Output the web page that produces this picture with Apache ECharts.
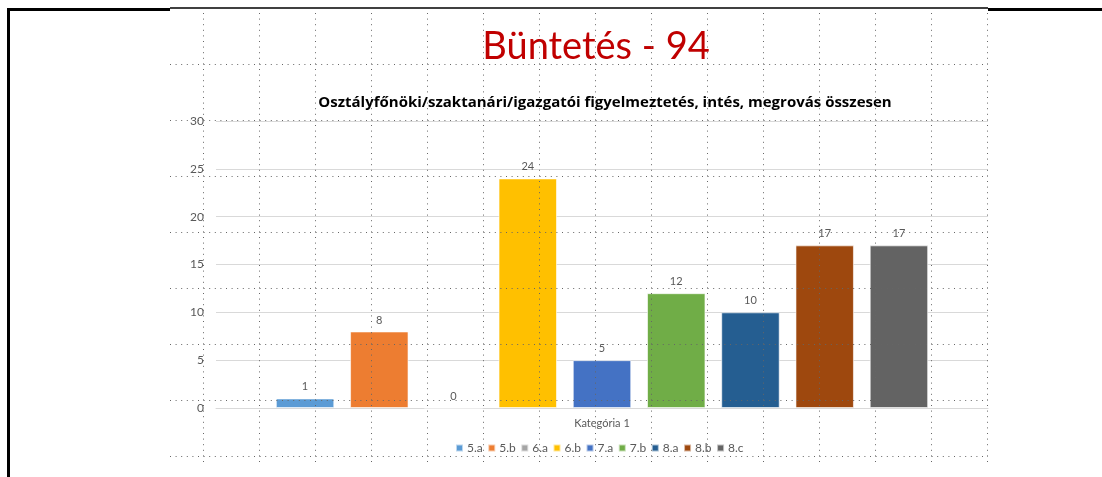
<!DOCTYPE html>
<html>
<head>
    <meta charset="utf-8">
    <title>Büntetés - 94</title>
    <script src="https://cdn.jsdelivr.net/npm/echarts@6/dist/echarts.min.js"></script>
    <style>
        html, body { margin: 0; padding: 0; background: #fff; }
    </style>
</head>
<body>
    <div id="main" style="width: 1102px;height:477px;"></div>
    <script type="text/javascript">
        // adatok
        var categories = ['Kategória 1'];
        var classes = ['5.a', '5.b', '6.a', '6.b', '7.a', '7.b', '8.a', '8.b', '8.c'];
        var values = [1, 8, 0, 24, 5, 12, 10, 17, 17];
        var colors = ['#5B9BD5', '#ED7D31', '#A5A5A5', '#FFC000', '#4472C4', '#70AD47', '#255E91', '#9E480E', '#636363'];
        var yTicks = [0, 5, 10, 15, 20, 25, 30];

        var myChart = echarts.init(document.getElementById('main'));
        var font = 'Lato, "Noto Sans", sans-serif';

        // a dia keretje + a PowerPoint segédrács pontozott vonalai
        var graphics = [
            { type: 'line', shape: { x1: 7, y1: 9.5, x2: 170, y2: 9.5 }, style: { stroke: '#000', lineWidth: 3 }, z: 100 },
            { type: 'line', shape: { x1: 170, y1: 8, x2: 988, y2: 8 }, style: { stroke: '#000', lineWidth: 1.5 }, z: 100 },
            { type: 'line', shape: { x1: 988, y1: 9.5, x2: 1102, y2: 9.5 }, style: { stroke: '#000', lineWidth: 3 }, z: 100 },
            { type: 'line', shape: { x1: 8.5, y1: 8, x2: 8.5, y2: 477 }, style: { stroke: '#000', lineWidth: 3 }, z: 100 }
        ];
        for (var k = 0; k < 15; k++) {
            var x = 203.5 + 56 * k;
            graphics.push({ type: 'line', silent: true, z: 100,
                shape: { x1: x, y1: 13, x2: x, y2: 463 },
                style: { stroke: '#666', lineWidth: 1, lineDash: [1, 4.6] } });
        }
        for (var j = 0; j < 8; j++) {
            var y = 64.5 + 56 * j;
            graphics.push({ type: 'line', silent: true, z: 100,
                shape: { x1: 170, y1: y, x2: 988, y2: y },
                style: { stroke: '#666', lineWidth: 1, lineDash: [1, 4.6] } });
        }

        var series = classes.map(function (name, i) {
            return {
                name: name,
                type: 'bar',
                data: [values[i]],
                barGap: '27%',
                barCategoryGap: '15.5%',
                itemStyle: { color: colors[i], borderColor: 'rgba(255,255,255,0.6)', borderWidth: 1 },
                label: {
                    show: true,
                    position: 'top',
                    distance: 6,
                    color: '#595959',
                    fontSize: 11,
                    fontFamily: font
                }
            };
        });

        var option = {
            animation: false,
            backgroundColor: '#fff',
            color: colors,
            title: [{
                text: 'Büntetés - 94',
                left: 591,
                textAlign: 'center',
                top: 20,
                textStyle: { color: '#C00000', fontSize: 38, fontWeight: 'normal', fontFamily: font, lineHeight: 44 }
            }, {
                text: 'Osztályfőnöki/szaktanári/igazgatói figyelmeztetés, intés, megrovás összesen',
                left: 600,
                textAlign: 'center',
                top: 88,
                textStyle: { color: '#000', fontSize: 15, fontWeight: 'bold', fontFamily: '"Open Sans", sans-serif', lineHeight: 20 }
            }],
            legend: {
                data: classes,
                left: 450,
                top: 437,
                itemWidth: 7,
                itemHeight: 7,
                itemGap: 4.5,
                icon: 'rect',
                textStyle: { color: '#595959', fontSize: 12, fontFamily: font, padding: [0, 0, 0, -1] }
            },
            grid: { left: 216, right: 114, top: 121, bottom: 69 },
            xAxis: {
                type: 'category',
                data: categories,
                axisLine: { lineStyle: { color: '#d9d9d9' } },
                axisTick: { show: false },
                axisLabel: { color: '#595959', fontSize: 11, fontFamily: font, margin: 10 }
            },
            yAxis: {
                type: 'value',
                min: yTicks[0],
                max: yTicks[yTicks.length - 1],
                interval: 5,
                axisLine: { show: false },
                axisTick: { show: false },
                axisLabel: { color: '#595959', fontSize: 12, fontFamily: font, margin: 12 },
                splitLine: { lineStyle: { color: '#d9d9d9' } }
            },
            series: series,
            graphic: graphics
        };

        myChart.setOption(option);
    </script>
</body>
</html>
